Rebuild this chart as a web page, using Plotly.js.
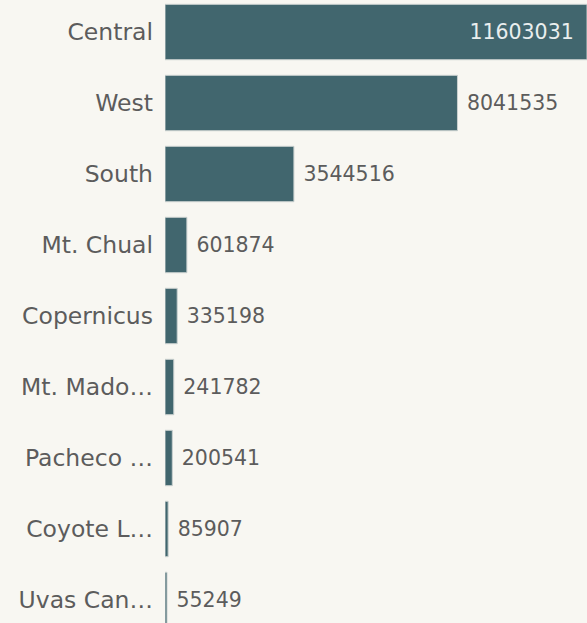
<!DOCTYPE html>
<html>
<head>
<meta charset="utf-8">
<script src="https://cdn.plot.ly/plotly-3.0.1.min.js"></script>
<style>html,body{margin:0;padding:0;background:#f8f7f2;}</style>
</head>
<body>
<div id="chart" style="width:587px;height:623px;"></div>
<script>
const categories = ["Central", "West", "South", "Mt. Chual", "Copernicus", "Mt. Mado\u2026", "Pacheco \u2026", "Coyote L\u2026", "Uvas Can\u2026"];
const values = [11603031, 8041535, 3544516, 601874, 335198, 241782, 200541, 85907, 55249];
const textPositions = values.map((v, i) => i === 0 ? 'inside' : 'outside');
const labels = values.map((v, i) => i === 0 ? String(v) + '\u2002' : '\u00a0' + String(v));

const trace = {
  type: 'bar',
  orientation: 'h',
  y: categories,
  x: values,
  text: labels,
  textposition: textPositions,
  insidetextanchor: 'end',
  cliponaxis: false,
  marker: {color: '#41666e', line: {color: '#c9d0cf', width: 1}},
  insidetextfont: {family: 'DejaVu Sans, Verdana, sans-serif', size: 20.5, color: '#e9eeee'},
  outsidetextfont: {family: 'DejaVu Sans, Verdana, sans-serif', size: 20.5, color: '#5c5c5c'},
  hoverinfo: 'none'
};

const layout = {
  width: 587, height: 623,
  margin: {l: 165, r: 0, t: 0, b: 0, pad: 0},
  paper_bgcolor: '#f8f7f2',
  plot_bgcolor: '#f8f7f2',
  bargap: 0.22,
  showlegend: false,
  font: {family: 'DejaVu Sans, Verdana, sans-serif', color: '#5c5c5c'},
  xaxis: {range: [0, 11603031], visible: false, showgrid: false, zeroline: false, fixedrange: true},
  yaxis: {
    type: 'category',
    categoryorder: 'array',
    categoryarray: categories,
    range: [8.324, -0.451],
    showgrid: false, zeroline: false, showline: false, ticks: '',
    ticklabelstandoff: 11,
    tickfont: {family: 'DejaVu Sans, Verdana, sans-serif', size: 23.5, color: '#5c5c5c'},
    fixedrange: true
  }
};

Plotly.newPlot('chart', [trace], layout, {displayModeBar: false, staticPlot: true});
</script>
</body>
</html>
